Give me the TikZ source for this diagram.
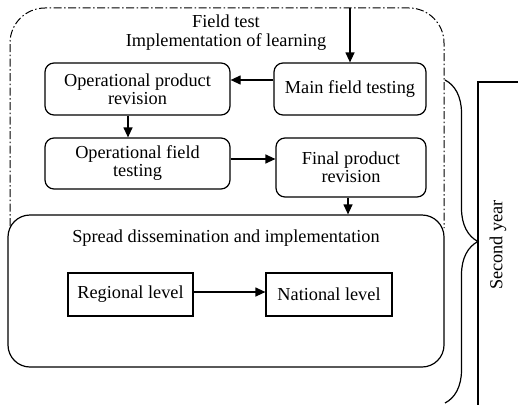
\documentclass[tikz,border=0pt]{standalone}
\usepackage{fontspec}
\setmainfont{Liberation Serif}
\usetikzlibrary{arrows.meta, decorations.pathreplacing}

\begin{document}
\begin{tikzpicture}[x=1pt, y=-1pt, line width=1.2pt,
  font=\fontsize{18.3}{20}\selectfont,
  stagebox/.style={draw, rounded corners=9pt, align=center, inner sep=2pt},
  levelbox/.style={draw, align=center, inner sep=2pt},
  arr/.style={-{Triangle[length=10pt, width=9pt]}},
  frame/.style={line width=1pt, dash pattern=on 8pt off 2.5pt on 1.5pt off 2.5pt, rounded corners=35pt}]
\useasboundingbox (0,0) rectangle (518,404);
% field test stage
\draw[frame] (10,226) -- (10,8) -- (444,8) -- (444,228);
\node[align=center] (fieldtest) at (226,33) {Field test\\[-1pt]Implementation of learning};
\coordinate (entry) at (350,8);
\node[stagebox, minimum width=152pt, minimum height=52pt] (main) at (350,89) {Main field testing};
\node[stagebox, minimum width=185pt, minimum height=52pt] (oprev) at (137.5,89) {Operational product\\[-2pt]revision};
\node[stagebox, minimum width=185pt, minimum height=51pt] (oftest) at (137.5,163.5) {Operational field\\[-2pt]testing};
\node[stagebox, minimum width=150pt, minimum height=59pt] (final) at (351,167.5) {Final product\\[-2pt]revision};
% dissemination stage
\node[draw, fill=white, rounded corners=22pt, minimum width=436pt, minimum height=152pt] (spread) at (226,291) {};
\node (spreadtitle) at (226,238) {Spread dissemination and implementation};
\node[levelbox, minimum width=125pt, minimum height=43pt] (regional) at (130.5,294.5) {Regional level};
\node[levelbox, minimum width=126pt, minimum height=43pt] (national) at (329,294.5) {National level};
% arrows
\draw[arr] (entry) -- (main.north);
\draw[arr] ([yshift=9pt]main.west) -- ([yshift=9pt]main.west -| oprev.east);
\draw[arr] ([xshift=-9.5pt]oprev.south) -- ([xshift=-9.5pt]oprev.south |- oftest.north);
\draw[arr] ([yshift=4.5pt]oftest.east) -- ([yshift=4.5pt]oftest.east -| final.west);
\draw[arr] ([xshift=-3pt]final.south) -- ([xshift=-3pt]final.south |- spread.north);
\draw[arr] ([yshift=2.5pt]regional.east) -- ([yshift=2.5pt]regional.east -| national.west);
% year
\draw[decorate, decoration={brace, amplitude=33pt}] (445,80) -- (445,403);
\draw (530,82) -- (478,82) -- (478,420);
\node[rotate=90] (year) at (498,245) {Second year};
\end{tikzpicture}
\end{document}
